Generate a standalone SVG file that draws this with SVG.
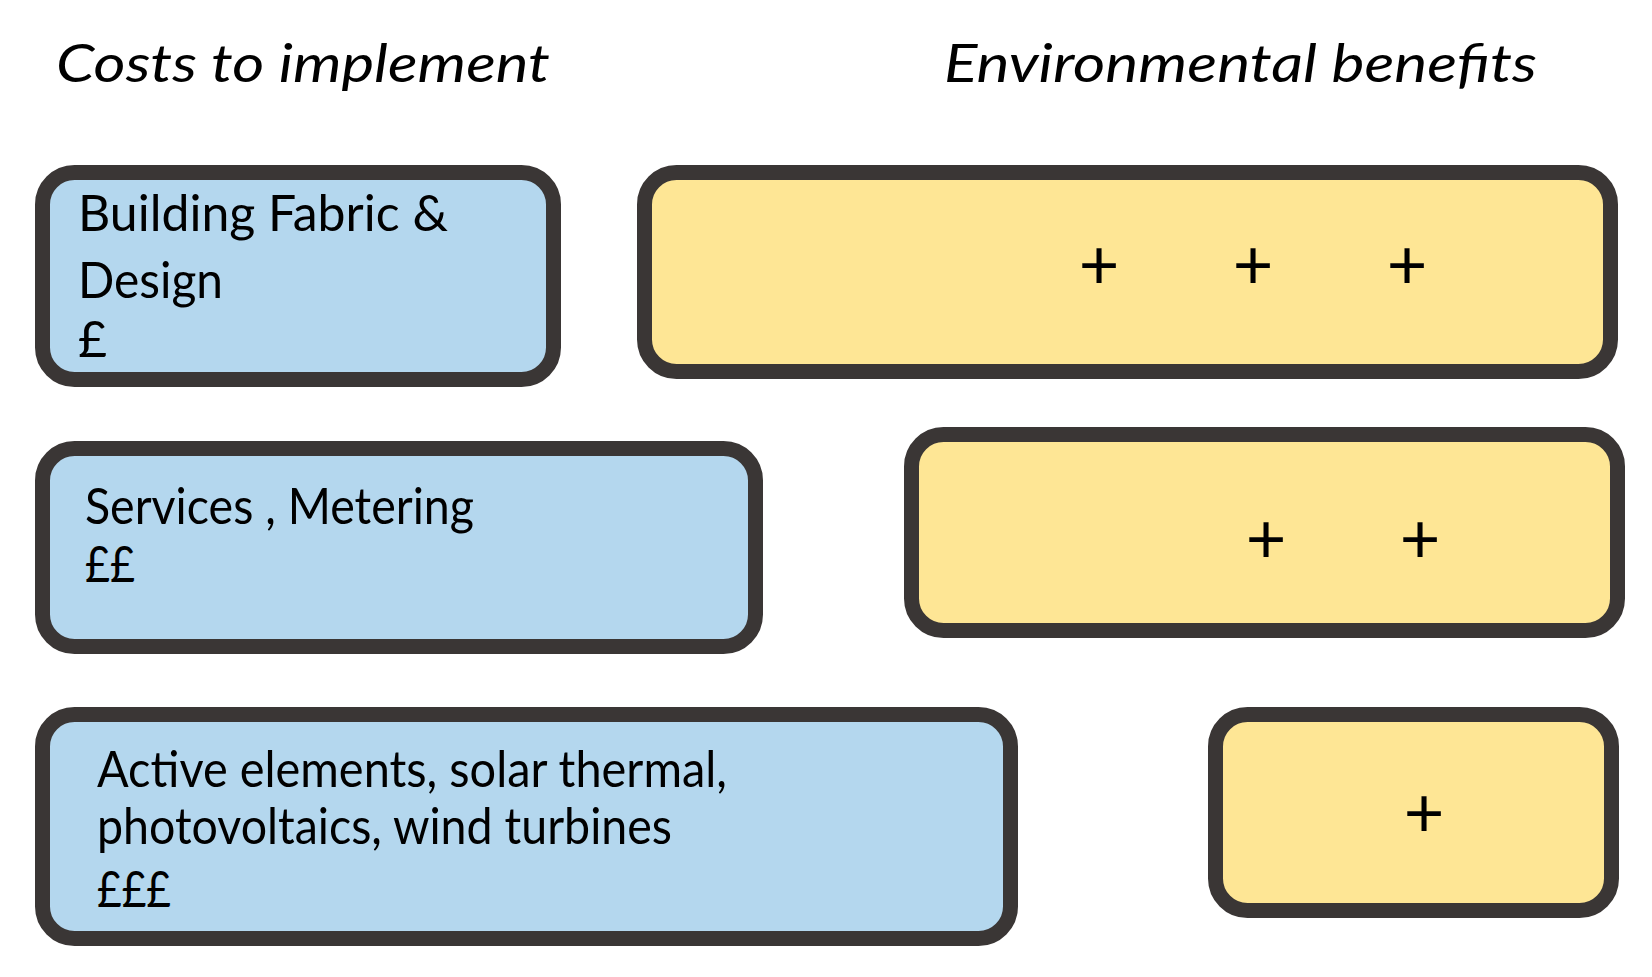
<svg xmlns="http://www.w3.org/2000/svg" width="1652" height="977" viewBox="0 0 1652 977">
<style>
.box{stroke:#3a3635;stroke-width:15}
.cost{fill:#b4d7ee}
.ben{fill:#fee695}
.t{font-family:Lato,"Open Sans","Liberation Sans",sans-serif;fill:#000}
.h{font-size:52px;font-style:italic}
.l{font-size:50px}
.p{font-size:70px;text-anchor:middle}
</style>
<rect width="1652" height="977" fill="#fff"/>
<text class="t h" x="56" y="82" textLength="494" lengthAdjust="spacingAndGlyphs">Costs to implement</text>
<text class="t h" x="944" y="82" textLength="593" lengthAdjust="spacingAndGlyphs">Environmental benefits</text>
<g id="cost1">
<rect class="box cost" x="42.5" y="172.5" width="511" height="207" rx="32"/>
<text class="t l" x="78" y="231" textLength="370" lengthAdjust="spacingAndGlyphs">Building Fabric &amp;</text>
<text class="t l" x="78" y="298" textLength="145" lengthAdjust="spacingAndGlyphs">Design</text>
<text class="t l" x="78" y="357">£</text>
</g>
<g id="benefit1">
<rect class="box ben" x="644.5" y="172.5" width="966" height="199" rx="32"/>
<text class="t p" x="1099" y="289">+</text>
<text class="t p" x="1253" y="289">+</text>
<text class="t p" x="1407" y="289">+</text>
</g>
<g id="cost2">
<rect class="box cost" x="42.5" y="448.5" width="713" height="198" rx="32"/>
<text class="t l" x="85" y="524" textLength="389" lengthAdjust="spacingAndGlyphs">Services , Metering</text>
<text class="t l" x="85" y="582" textLength="50" lengthAdjust="spacingAndGlyphs">££</text>
</g>
<g id="benefit2">
<rect class="box ben" x="911.5" y="434.5" width="706" height="196" rx="32"/>
<text class="t p" x="1266" y="563">+</text>
<text class="t p" x="1420" y="563">+</text>
</g>
<g id="cost3">
<rect class="box cost" x="42.5" y="714.5" width="968" height="224" rx="32"/>
<text class="t l" x="97" y="787" textLength="630" lengthAdjust="spacingAndGlyphs">Active elements, solar thermal,</text>
<text class="t l" x="97" y="844" textLength="575" lengthAdjust="spacingAndGlyphs">photovoltaics, wind turbines</text>
<text class="t l" x="97" y="907" textLength="74" lengthAdjust="spacingAndGlyphs">£££</text>
</g>
<g id="benefit3">
<rect class="box ben" x="1215.5" y="714.5" width="396" height="196" rx="32"/>
<text class="t p" x="1424" y="837">+</text>
</g>
<g id="connectors"/>
</svg>
